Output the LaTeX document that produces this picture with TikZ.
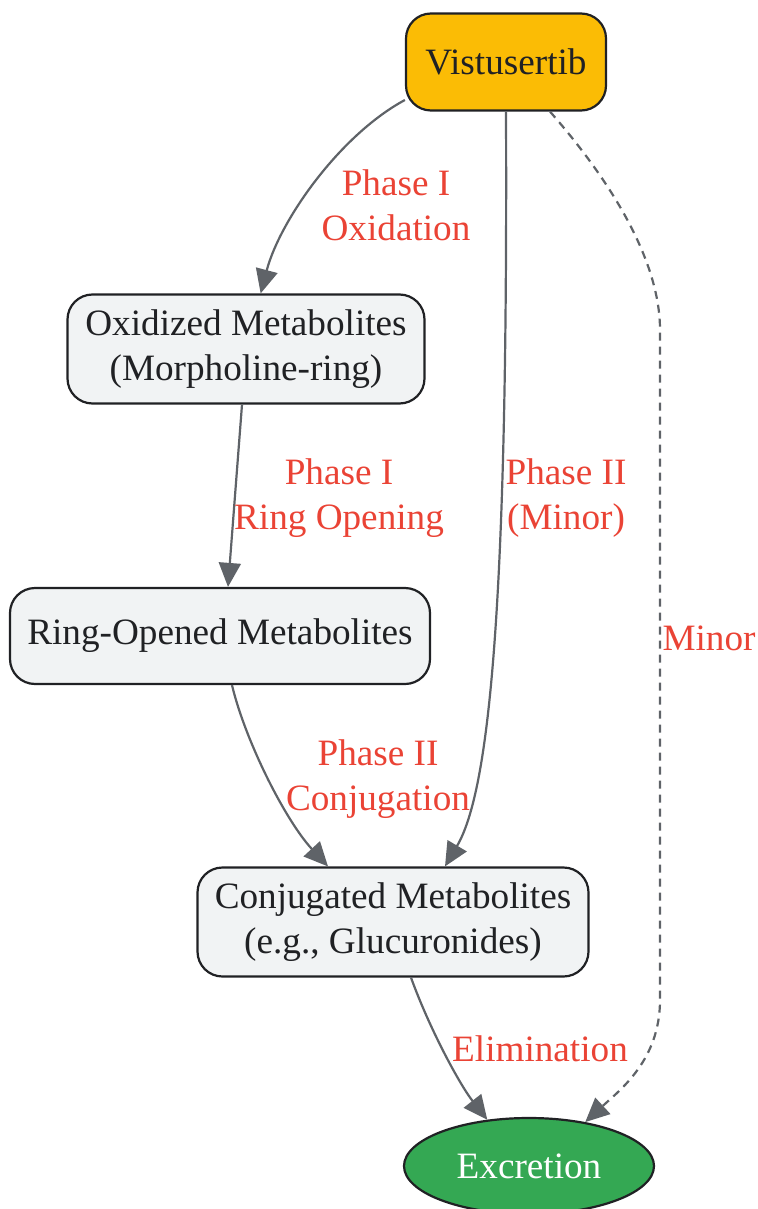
\documentclass[tikz,border=0pt]{standalone}
\usepackage{fontspec}
\setmainfont{Liberation Serif}
\usetikzlibrary{arrows.meta,shapes.geometric}
\definecolor{inkdark}{HTML}{202124}
\definecolor{drugfill}{HTML}{FBBC05}
\definecolor{metfill}{HTML}{F1F3F4}
\definecolor{excfill}{HTML}{34A853}
\definecolor{edgegray}{HTML}{5F6368}
\definecolor{labelred}{HTML}{EA4335}
\begin{document}
\begin{tikzpicture}[x=0.5pt,y=-0.5pt,
    txt/.style={font=\fontsize{18.6}{22.5}\selectfont, align=center},
    metbox/.style={txt, draw=inkdark, line width=1.1pt, rounded corners=12.5pt,
        fill=metfill, text=inkdark, inner sep=0pt},
    flow/.style={draw=edgegray, line width=1.1pt, -{Triangle[length=12pt,width=11pt]}},
    lbl/.style={txt, text=labelred, inner sep=0pt}]
    \useasboundingbox (0,0) rectangle (758,1209);

    % 节点
    \node[metbox, fill=drugfill, minimum width=100pt, minimum height=48.5pt] (vis) at (506,62) {Vistusertib};
    \node[metbox, minimum width=178.5pt, minimum height=54.5pt] (oxi) at (246,349) {Oxidized Metabolites\\(Morpholine-ring)};
    \node[metbox, minimum width=210pt, minimum height=48pt] (ring) at (220,636) {Ring-Opened Metabolites};
    \node[metbox, minimum width=195.5pt, minimum height=54.5pt] (conj) at (393,922) {Conjugated Metabolites\\(e.g., Glucuronides)};
    \node[txt, ellipse, draw=inkdark, line width=1.1pt, fill=excfill, text=white,
        minimum width=125pt, minimum height=48pt, inner sep=0pt] (exc) at (529,1166) {Excretion};

    % 连线
    \draw[flow] ([yshift=-19pt]vis.west) .. controls (340,135) and (280,220) .. (oxi);
    \draw[flow] (vis.south) .. controls (508,600) and (490,790) .. ([xshift=26pt]conj.north);
    \draw[flow, dashed, dash pattern=on 4pt off 3pt]
        ([xshift=22pt]vis.south) .. controls (610,180) and (660,260) .. (660,330)
        -- (660,1000) .. controls (660,1060) and (620,1090) .. (exc.38);
    \draw[flow] ([xshift=-2pt]oxi.south) -- ([xshift=4pt]ring.north);
    \draw[flow] ([xshift=6pt]ring.south) .. controls (245,740) and (285,820) .. ([xshift=-32.5pt]conj.north);
    \draw[flow] ([xshift=9pt]conj.south) .. controls (430,1030) and (460,1085) .. (exc.132);

    % 标签
    \node[lbl] (l1) at (396,205) {Phase I\\Oxidation};
    \node[lbl] (l2) at (339,498) {Phase I\\Ring Opening};
    \node[lbl] (l3) at (566,498) {Phase II\\(Minor)};
    \node[lbl] (l4) at (709,638) {Minor};
    \node[lbl] (l5) at (378,779) {Phase II\\Conjugation};
    \node[lbl] (l6) at (540,1049) {Elimination};
\end{tikzpicture}
\end{document}
